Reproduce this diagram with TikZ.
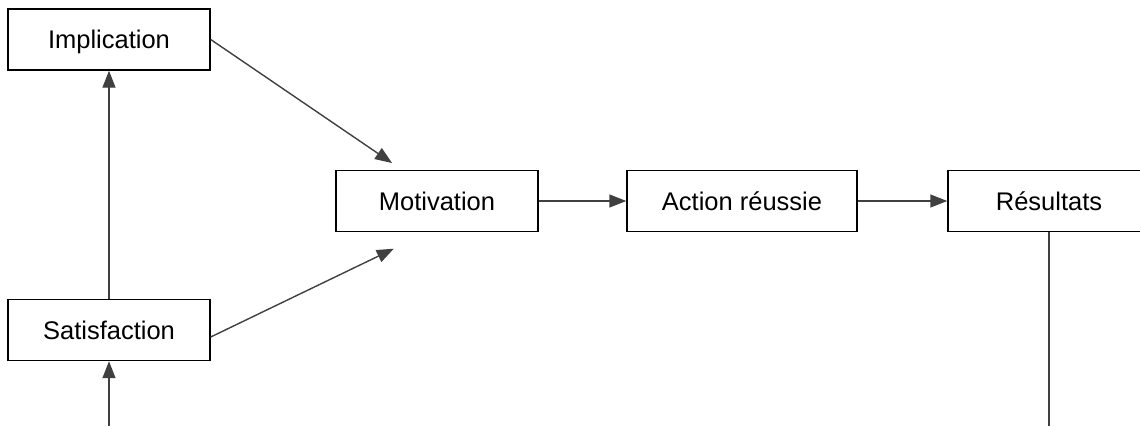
\documentclass[tikz,border=0pt]{standalone}
\usepackage{fontspec}
\setmainfont{Liberation Sans}
\usetikzlibrary{arrows.meta}

\begin{document}
\begin{tikzpicture}[x=1pt,y=-1pt,-{Triangle[length=17pt,width=13pt]},line width=1.4pt,
  box node/.style={rectangle,draw=black,line width=1.4pt,minimum width=202pt,minimum height=61pt,
    inner sep=0pt,text height=18.5pt,text depth=0pt,font=\fontsize{25.5}{30}\selectfont}]

  \useasboundingbox (0,0) rectangle (1140,426);

  \node[box node] (impl) at (109,39.5) {Implication};
  \node[box node] (satis) at (109,330) {Satisfaction};
  \node[box node] (motiv) at (437,201) {Motivation};
  \node[box node, minimum width=230pt] (action) at (742,201) {Action réussie};
  \node[box node] (result) at (1049,201) {Résultats};

  \coordinate (in) at (109,426);
  \coordinate (out) at (1049,426);

  \path[color=black!75]
    (in) edge (satis)
    (satis) edge (impl)
    (impl.east) edge[shorten >=12pt] ([xshift=-35pt]motiv.north)
    ([yshift=-7pt]satis.east) edge[shorten >=38pt] ([xshift=-9pt]motiv.south)
    (motiv) edge (action)
    (action) edge (result)
    (result) edge[-] (out);
\end{tikzpicture}
\end{document}
